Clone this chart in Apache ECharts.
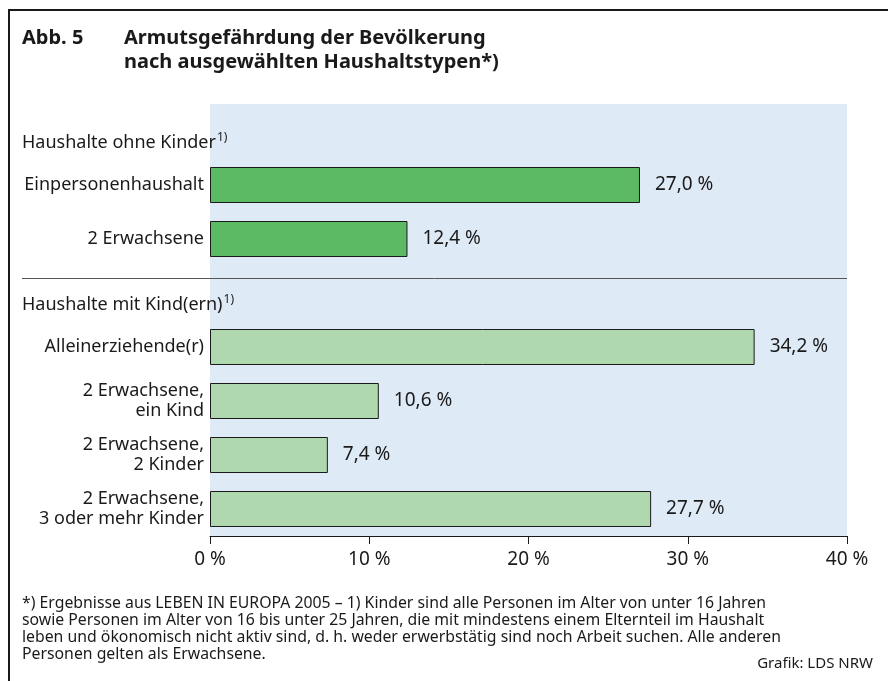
<!DOCTYPE html>
<html>
<head>
<meta charset="utf-8">
<script src="https://cdn.jsdelivr.net/npm/echarts@6/dist/echarts.min.js"></script>
<style>
  html, body { margin: 0; padding: 0; background: #fff; }
  #chart { width: 888px; height: 681px; }
</style>
</head>
<body>
<div id="chart"></div>
<script>
// rows of the chart, top to bottom; header rows carry no value
const categories = [
  'Haushalte ohne Kinder',
  'Einpersonenhaushalt',
  '2 Erwachsene',
  'Haushalte mit Kind(ern)',
  'Alleinerziehende(r)',
  '2 Erwachsene,\nein Kind',
  '2 Erwachsene,\n2 Kinder',
  '2 Erwachsene,\n3 oder mehr Kinder'
]
const isHeader = [true, false, false, true, false, false, false, false]
const rates = [null, 27.0, 12.4, null, 34.2, 10.6, 7.4, 27.7]
const group = [0, 0, 0, 1, 1, 1, 1, 1]
const xTicks = [0, 10, 20, 30, 40]

const groupColors = ['#5cb964', '#afd8ae']
const textColor = '#1a1a1a'
const fontFamily = '"Noto Sans", "Open Sans", sans-serif'

const chart = echarts.init(document.getElementById('chart'))

const barData = rates.map(function (v, i) {
  if (v === null) return '-'
  return { value: v, itemStyle: { color: groupColors[group[i]] } }
})

const option = {
  animation: false,
  textStyle: { fontFamily: fontFamily, color: textColor },
  title: [{
    text: 'Abb. 5',
    left: 22, top: 27, padding: 0,
    textStyle: { fontSize: 20, fontWeight: 'bold', lineHeight: 23.5, color: textColor, fontFamily: fontFamily }
  }, {
    text: 'Armutsgefährdung der Bevölkerung\nnach ausgewählten Haushaltstypen*)',
    left: 124, top: 27, padding: 0,
    textStyle: { fontSize: 20, fontWeight: 'bold', lineHeight: 23.5, color: textColor, fontFamily: fontFamily }
  }, {
    text: '*) Ergebnisse aus LEBEN IN EUROPA 2005 – 1) Kinder sind alle Personen im Alter von unter 16 Jahren\n' +
      'sowie Personen im Alter von 16 bis unter 25 Jahren, die mit mindestens einem Elternteil im Haushalt\n' +
      'leben und ökonomisch nicht aktiv sind, d. h. weder erwerbstätig sind noch Arbeit suchen. Alle anderen\n' +
      'Personen gelten als Erwachsene.',
    left: 22, top: 595, padding: 0,
    textStyle: { fontSize: 15.8, fontWeight: 'normal', lineHeight: 17, color: textColor, fontFamily: fontFamily }
  }, {
    text: 'Grafik: LDS NRW',
    right: 15, top: 656, padding: 0,
    textStyle: { fontSize: 15, fontWeight: 'normal', color: textColor, fontFamily: fontFamily }
  }],
  grid: {
    left: 210, right: 41, top: 104, bottom: 145,
    show: true, backgroundColor: '#dfeaf7', borderWidth: 0
  },
  xAxis: {
    type: 'value',
    min: 0, max: 40, interval: 10,
    axisLine: { show: true, lineStyle: { color: '#1a1a1a', width: 1 } },
    axisTick: { show: true, inside: false, length: 8, lineStyle: { color: '#1a1a1a' } },
    splitLine: { show: false },
    axisLabel: {
      margin: 14,
      fontSize: 19, color: textColor, fontFamily: fontFamily,
      formatter: function (v) { return xTicks.indexOf(v) >= 0 ? v + ' %' : '' }
    }
  },
  yAxis: [{
    // row labels, right-aligned next to the bars
    type: 'category',
    inverse: true,
    data: categories,
    axisLine: { show: false },
    axisTick: { show: false },
    axisLabel: {
      margin: 6,
      fontSize: 18, lineHeight: 20, color: textColor, fontFamily: fontFamily,
      formatter: function (v, i) { return isHeader[i] ? '' : v }
    }
  }, {
    // group headers, left-aligned at the frame margin
    type: 'category',
    inverse: true,
    position: 'left',
    offset: 188,
    data: categories,
    axisLine: { show: false },
    axisTick: { show: false },
    axisLabel: {
      inside: true,
      margin: 0,
      color: textColor, fontFamily: fontFamily,
      formatter: function (v, i) { return isHeader[i] ? '{h|' + v + '}{s|1)}' : '' },
      rich: {
        h: { fontSize: 18, padding: [24, 0, 0, 0], color: textColor, fontFamily: fontFamily },
        s: { fontSize: 12, padding: [13, 0, 0, 1], color: textColor, fontFamily: fontFamily }
      }
    }
  }],
  series: [{
    type: 'bar',
    yAxisIndex: 0,
    barWidth: 36,
    data: barData,
    itemStyle: { borderColor: '#1a1a1a', borderWidth: 1 },
    label: {
      show: true,
      position: 'right',
      distance: 15,
      fontSize: 19, color: textColor, fontFamily: fontFamily,
      formatter: function (p) { return p.value.toFixed(1).replace('.', ',') + ' %' }
    }
  }],
  graphic: [{
    // outer frame (top and left edges visible)
    type: 'rect',
    shape: { x: 9, y: 10, width: 1200, height: 1200 },
    style: { fill: 'none', stroke: '#1a1a1a', lineWidth: 2 },
    silent: true
  }, {
    // separator between the two household groups
    type: 'line',
    shape: { x1: 22, y1: 278.5, x2: 847, y2: 278.5 },
    style: { stroke: '#555', lineWidth: 1 },
    silent: true
  }]
}

chart.setOption(option)
</script>
</body>
</html>
